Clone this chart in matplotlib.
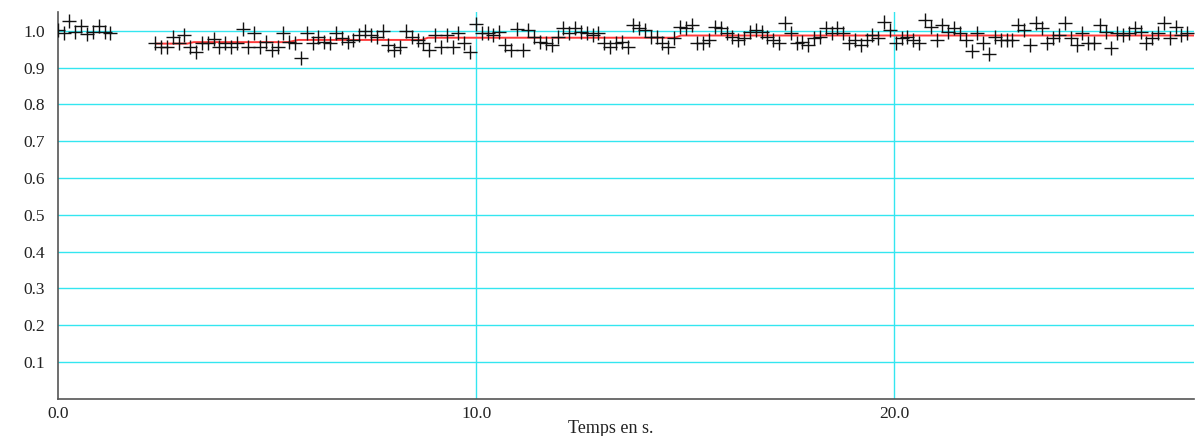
import numpy as np
import matplotlib
matplotlib.use('Agg')
import matplotlib.pyplot as plt

# first burst of samples (t = 0 .. 1.26 s)
dt = 0.14
values_a = [1.003, 0.995, 1.027, 0.997, 1.014, 0.992, 0.997, 1.014, 0.997, 0.995]

# main run of samples (t = 2.33 .. 27.0 s)
values_b = [
    0.967, 0.957, 0.957, 0.984, 0.967, 0.989, 0.957, 0.943, 0.967, 0.967, 0.978, 0.957, 0.967, 0.957,
    0.967, 1.005, 0.957, 0.995, 0.957, 0.970, 0.948, 0.957, 0.995, 0.970, 0.967, 0.927, 0.995, 0.967,
    0.984, 0.970, 0.967, 0.995, 0.981, 0.970, 0.976, 0.989, 0.998, 0.989, 0.984, 0.998, 0.962, 0.948,
    0.957, 0.998, 0.984, 0.976, 0.967, 0.948,
    0.989, 0.957, 0.989, 0.957, 0.995, 0.967, 0.943, 1.019, 0.995, 0.995, 0.989, 0.997, 0.962, 0.948,
    1.005, 0.948, 1.003, 0.984, 0.970, 0.967, 0.962, 0.984, 1.008, 0.995, 1.008, 0.997, 0.995, 0.989,
    0.995, 0.967, 0.957, 0.967, 0.970, 0.957, 1.016,
    1.008, 1.003, 0.984, 0.984, 0.967, 0.957, 0.981, 1.011, 1.008, 1.016, 0.967, 0.967, 0.976, 1.011,
    1.008, 0.995, 0.984, 0.976, 0.981, 0.997, 1.003, 0.997, 0.984, 0.976, 0.967, 1.022, 0.995, 0.967,
    0.970, 0.962, 0.981, 0.984, 1.008, 0.995,
    1.008, 0.995, 0.967, 0.976, 0.962, 0.976, 0.989, 0.981, 1.024, 1.003, 0.967, 0.981, 0.984, 0.976,
    0.967, 1.030, 1.011, 0.976, 1.016, 0.997, 1.008, 0.995, 0.976, 0.945, 0.995, 0.967, 0.938, 0.984,
    0.976, 0.976,
    0.976, 1.016, 1.003, 0.962, 1.022, 1.008, 0.967, 0.981, 0.989, 1.022, 0.981, 0.962, 0.995, 0.967,
    0.967, 1.016, 0.997, 0.954, 0.995, 0.989, 0.995, 1.008, 0.997, 0.967, 0.981, 0.995, 1.022, 0.981,
    1.011, 0.989, 0.995,
]
t_b_start, t_b_end = 2.33, 27.0

# smoothed curve (red)
fit_t = [2.35, 3.1, 3.25, 5.5, 5.75, 8.7, 8.85, 14.75, 14.9, 27.2]
fit_v = [0.965, 0.965, 0.969, 0.969, 0.975, 0.975, 0.981, 0.981, 0.987, 0.987]

x_ticks = [0.0, 10.0, 20.0]
y_ticks = [0.1, 0.2, 0.3, 0.4, 0.5, 0.6, 0.7, 0.8, 0.9, 1.0]


def main():
    t_a = np.arange(len(values_a)) * dt
    t_b = np.linspace(t_b_start, t_b_end, len(values_b))

    plt.rcParams['font.family'] = ['Liberation Serif', 'DejaVu Serif']
    fig = plt.figure(figsize=(11.95, 4.36), dpi=100)
    ax = fig.add_axes([0.0483, 0.085, 0.9505, 0.8876])

    for y in y_ticks:
        ax.axhline(y, color='#33e6f0', lw=1.0, zorder=1)
    for x in x_ticks[1:]:
        ax.axvline(x, color='#33e6f0', lw=1.0, zorder=1)

    ax.plot(fit_t, fit_v, color='#ff3a3a', lw=1.4, zorder=2)
    ax.plot(t_a, values_a, '+', color='#111111', ms=10, mew=1.0, zorder=3)
    ax.plot(t_b, values_b, '+', color='#111111', ms=10, mew=1.0, zorder=3)

    ax.set_xlim(0, 27.15)
    ax.set_ylim(0, 1.051)
    ax.set_xticks(x_ticks)
    ax.set_xticklabels(['%.1f' % v for v in x_ticks])
    ax.set_yticks(y_ticks)
    ax.set_yticklabels(['%.1f' % v for v in y_ticks])
    ax.tick_params(length=0, labelsize=12.5, colors='#222222')
    ax.tick_params(axis='y', pad=9)
    ax.tick_params(axis='x', pad=5)

    for side in ['top', 'right']:
        ax.spines[side].set_visible(False)
    for side in ['left', 'bottom']:
        ax.spines[side].set_color('#555555')
        ax.spines[side].set_linewidth(1.2)

    ax.set_xlabel('Temps en s.', fontsize=13, color='#222222')
    ax.xaxis.set_label_coords(0.487, -0.055)

    fig.savefig('out.png', dpi=100)


if __name__ == '__main__':
    main()
